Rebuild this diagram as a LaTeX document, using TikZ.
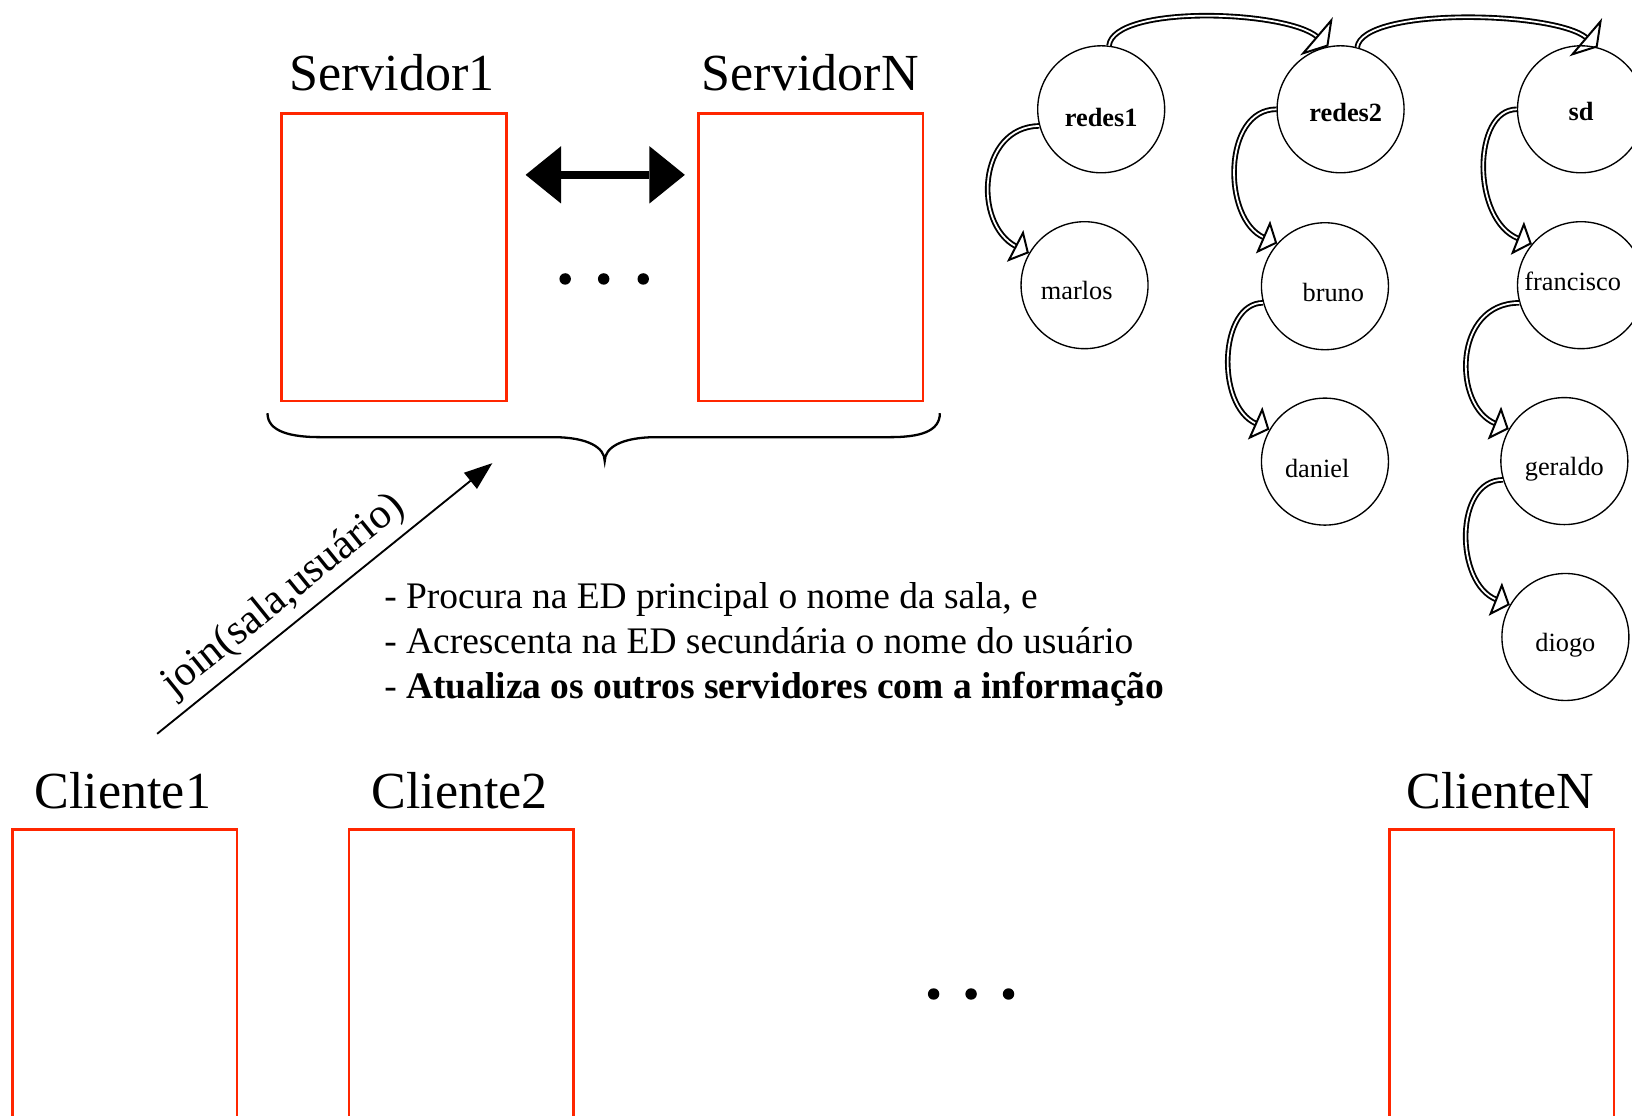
\documentclass[tikz,border=0pt]{standalone}
\usepackage{fontspec}
\setmainfont{Liberation Serif}
\usetikzlibrary{arrows.meta}
\definecolor{boxred}{RGB}{255,38,0}
\newcommand{\fntbig}{\fontsize{50}{60}\selectfont}
\newcommand{\fnttext}{\fontsize{36}{43}\selectfont}
\newcommand{\fnttree}{\fontsize{25.3}{30}\selectfont}
\newcommand{\fntjoin}{\fontsize{41}{49}\selectfont}
\newcommand{\tlinkdraw}[5][thead]{%
  \draw[tshaft] (#2) .. controls +#4 and +#5 .. (#3);
  \draw[#1] (#2) .. controls +#4 and +#5 .. (#3);}
\tikzset{
  lbl/.style={inner sep=0pt, anchor=base},
  redbox/.style={draw=boxred, line width=2.2pt, minimum width=216pt, inner sep=0pt},
  treenode/.style={circle, draw, line width=1.3pt, minimum size=122pt, inner sep=0pt},
  tlabel/.style={inner sep=0pt, font=\fnttree},
  tshaft/.style={draw, line width=1.8pt, double=white, double distance=1.7pt, shorten >=14pt},
  thead/.style={draw=white, line width=0.2pt, -{Triangle[open, length=15pt, width=34pt, color=black, line width'=1.9pt]}},
  theadtop/.style={draw=white, line width=0.2pt, -{Triangle[open, length=15pt, width=48pt, color=black, line width'=1.9pt]}},
  bigdarrow/.style={line width=8pt, {Triangle[length=34pt,width=55pt,line width'=0pt]}-{Triangle[length=34pt,width=55pt,line width'=0pt]}},
  joinarrow/.style={line width=1.8pt, -{Triangle[length=27pt,width=20pt,line width'=0pt]}},
  bracepath/.style={line width=2.2pt},
}
\begin{document}
\begin{tikzpicture}[x=1pt,y=-1pt]
\useasboundingbox (0,0) rectangle (1568,1072);
\clip (0,0) rectangle (1568,1072);

% servers
\node[lbl, font=\fntbig] (l1) at (376.5,87) {Servidor1};
\node[lbl, font=\fntbig] (lN) at (778.5,87) {ServidorN};
\node[redbox, minimum height=276pt] (s1) at (378.5,247) {};
\node[redbox, minimum height=276pt] (sN) at (779,247) {};

\coordinate (da1) at (505,168);
\coordinate (da2) at (658,168);
\draw[bigdarrow] (da1) -- (da2);

\foreach \x in {543,580,618} \fill (\x,268) circle[radius=5.5pt];

% brace
\draw[bracepath] (257,397) .. controls (257,415) and (280,420) .. (308,420) -- (531,420)
  .. controls (565,420) and (581,430) .. (581,443)
  .. controls (581,430) and (597,420) .. (631,420) -- (855,420)
  .. controls (883,420) and (903,415) .. (903,397);

% join arrow
\coordinate (jstart) at (151,705);
\coordinate (jend) at (473,445);
\draw[joinarrow] (jstart) -- node[sloped, pos=0.43, anchor=south, inner sep=7pt, font=\fntjoin] (joinlbl) {join(sala,usuário)} (jend);

% text
\node[lbl, anchor=base west, font=\fnttext] (t1) at (369,585) {- Procura na ED principal o nome da sala, e};
\node[lbl, anchor=base west, font=\fnttext] (t2) at (369,628) {- Acrescenta na ED secundária o nome do usuário};
\node[lbl, anchor=base west, font=\fnttext] (t3) at (369,671) {- \textbf{Atualiza os outros servidores com a informação}};

% clients
\node[lbl, font=\fntbig] (c1l) at (118,777) {Cliente1};
\node[lbl, font=\fntbig] (c2l) at (441.5,777) {Cliente2};
\node[lbl, font=\fntbig] (cNl) at (1441.5,777) {ClienteN};
\node[redbox, minimum height=320pt] (c1) at (120,957) {};
\node[redbox, minimum height=320pt] (c2) at (443,957) {};
\node[redbox, minimum height=320pt] (cN) at (1443,957) {};
\foreach \x in {897,933,969} \fill (\x,955) circle[radius=5.5pt];

% tree
\node[treenode, label={[tlabel, yshift=-7.5pt]center:\textbf{redes1}}] (redes1) at (1058,105) {};
\node[treenode, label={[tlabel, xshift=5pt, yshift=-3.5pt]center:\textbf{redes2}}] (redes2) at (1288,105) {};
\node[treenode, label={[tlabel, yshift=-2.5pt]center:\textbf{sd}}] (sd) at (1519,105) {};
\node[treenode, label={[tlabel, xshift=-7.5pt, yshift=-5.5pt]center:marlos}] (marlos) at (1042,274) {};
\node[treenode, label={[tlabel, xshift=8pt, yshift=-6pt]center:bruno}] (bruno) at (1273,275) {};
\node[treenode, label={[tlabel, xshift=-8pt, yshift=4pt]center:francisco}] (francisco) at (1519,274) {};
\node[treenode, label={[tlabel, xshift=-7.5pt, yshift=-6.5pt]center:daniel}] (daniel) at (1273,443.5) {};
\node[treenode, label={[tlabel, yshift=-8pt]center:geraldo}] (geraldo) at (1503,443) {};
\node[treenode, label={[tlabel, yshift=-7.5pt]center:diogo}] (diogo) at (1504,612) {};

\tlinkdraw[theadtop]{redes1.83}{redes2.101}{(4.6,-39.5)}{(-41,-35)}
\tlinkdraw[theadtop]{redes2.75}{sd.75}{(5,-39)}{(-41,-35)}
\tlinkdraw{redes1.195}{marlos.150}{(-59,1)}{(-54,-28)}
\tlinkdraw{redes2.180}{bruno.138}{(-52,0)}{(-53,-23)}
\tlinkdraw{sd.180}{francisco.140}{(-43,0)}{(-58,-23)}
\tlinkdraw{bruno.195}{daniel.150}{(-42,0)}{(-52,-23)}
\tlinkdraw{francisco.196}{geraldo.150}{(-64,0)}{(-54,-22)}
\tlinkdraw{geraldo.197}{diogo.150}{(-47,0)}{(-53,-21)}
\end{tikzpicture}
\end{document}
